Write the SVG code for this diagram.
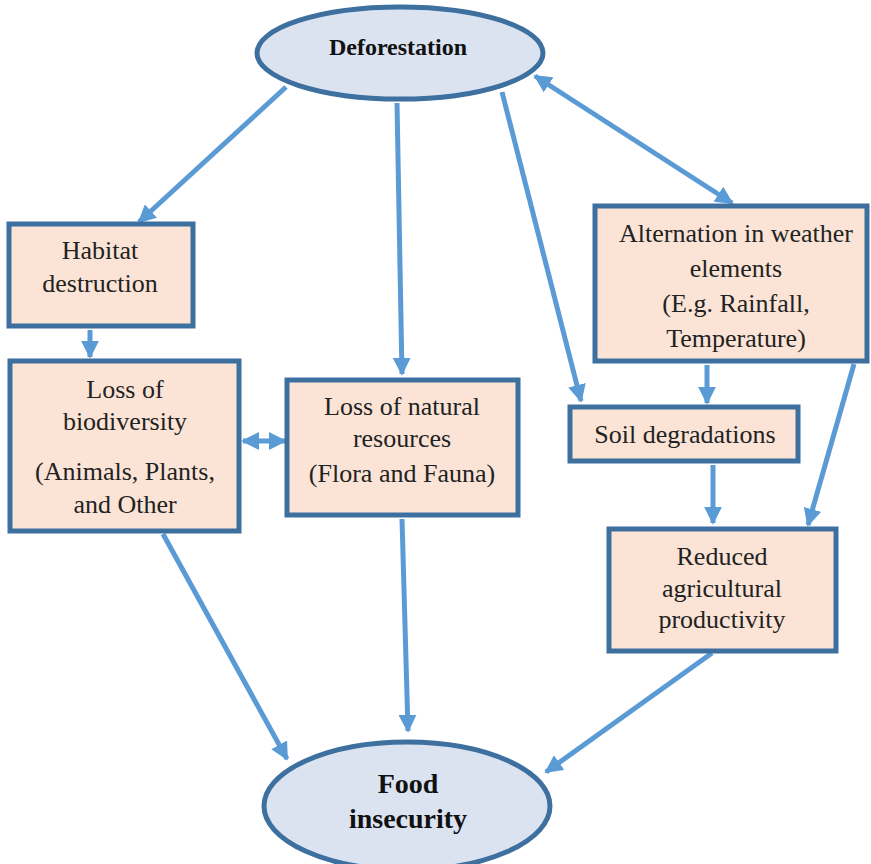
<svg xmlns="http://www.w3.org/2000/svg" width="871" height="864" viewBox="0 0 871 864">
  <style>
    .box { fill: #fbe4d6; stroke: #3d6f9f; stroke-width: 5; }
    .oval { fill: #dbe3f1; stroke: #3d6f9f; stroke-width: 5; }
    text { font-family: 'Liberation Serif', 'DejaVu Serif', serif; font-size: 26px; fill: #222; text-anchor: middle; }
    .bold { font-weight: bold; fill: #111; }
    .link { stroke: #5b9bd5; stroke-width: 5; fill: none; }
  </style>
  <defs>
    <marker id="head" viewBox="0 0 10 10" refX="9" refY="5" markerWidth="18" markerHeight="18" markerUnits="userSpaceOnUse" orient="auto-start-reverse">
      <path d="M0,0 L10,5 L0,10 Z" fill="#5b9bd5"/>
    </marker>
  </defs>
  <rect width="871" height="864" fill="#ffffff"/>

  <g id="connectors">
    <line class="link" x1="286" y1="87" x2="139" y2="222" marker-end="url(#head)"/>
    <line class="link" x1="397" y1="103" x2="402" y2="374" marker-end="url(#head)"/>
    <line class="link" x1="502" y1="92" x2="581" y2="401" marker-end="url(#head)"/>
    <line class="link" x1="535" y1="76" x2="732" y2="203" marker-start="url(#head)" marker-end="url(#head)"/>
    <line class="link" x1="90" y1="330" x2="90" y2="357" marker-end="url(#head)"/>
    <line class="link" x1="243" y1="441" x2="285" y2="441" marker-start="url(#head)" marker-end="url(#head)"/>
    <line class="link" x1="707" y1="365" x2="707" y2="403" marker-end="url(#head)"/>
    <line class="link" x1="854" y1="364" x2="808" y2="525" marker-end="url(#head)"/>
    <line class="link" x1="713" y1="465" x2="713" y2="523" marker-end="url(#head)"/>
    <line class="link" x1="163" y1="534" x2="287" y2="759" marker-end="url(#head)"/>
    <line class="link" x1="402" y1="519" x2="408" y2="731" marker-end="url(#head)"/>
    <line class="link" x1="712" y1="653" x2="546" y2="772" marker-end="url(#head)"/>
  </g>

  <g id="deforestation">
    <ellipse class="oval" cx="400" cy="53" rx="143" ry="46"/>
    <text class="bold" x="398" y="55" style="font-size:24px">Deforestation</text>
  </g>

  <g id="habitat-destruction">
    <rect class="box" x="9" y="224" width="184" height="102"/>
    <text x="100" y="259">Habitat</text>
    <text x="100" y="292">destruction</text>
  </g>

  <g id="loss-of-biodiversity">
    <rect class="box" x="10" y="361" width="229" height="170"/>
    <text x="125" y="398">Loss of</text>
    <text x="125" y="430">biodiversity</text>
    <text x="125" y="480">(Animals, Plants,</text>
    <text x="125" y="513">and Other</text>
  </g>

  <g id="loss-of-natural-resources">
    <rect class="box" x="287" y="380" width="231" height="135"/>
    <text x="402" y="415">Loss of natural</text>
    <text x="402" y="447">resources</text>
    <text x="402" y="482">(Flora and Fauna)</text>
  </g>

  <g id="weather-elements">
    <rect class="box" x="595" y="206" width="272" height="155"/>
    <text x="736" y="242">Alternation in weather</text>
    <text x="736" y="277">elements</text>
    <text x="736" y="312">(E.g. Rainfall,</text>
    <text x="736" y="347">Temperature)</text>
  </g>

  <g id="soil-degradations">
    <rect class="box" x="570" y="407" width="228" height="54"/>
    <text x="685" y="443">Soil degradations</text>
  </g>

  <g id="reduced-productivity">
    <rect class="box" x="609" y="529" width="227" height="122"/>
    <text x="722" y="565">Reduced</text>
    <text x="722" y="597">agricultural</text>
    <text x="722" y="628">productivity</text>
  </g>

  <g id="food-insecurity">
    <ellipse class="oval" cx="407" cy="806" rx="143" ry="64"/>
    <text class="bold" x="408" y="793" style="font-size:28px">Food</text>
    <text class="bold" x="408" y="828" style="font-size:28px">insecurity</text>
  </g>
</svg>
